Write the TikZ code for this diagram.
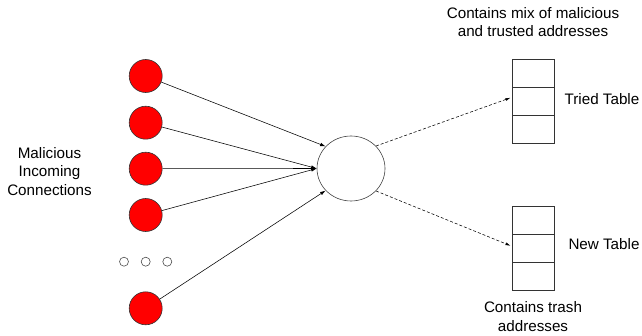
\documentclass[tikz,border=0pt]{standalone}
\usepackage{fontspec}
\setmainfont{Liberation Sans}
\usetikzlibrary{arrows.meta,shapes.geometric,calc}
\begin{document}
\begin{tikzpicture}[x=1pt,y=-1pt,
  redbox/.style={circle,draw=black!80,fill=red,line width=0.6pt,minimum size=33pt,inner sep=0pt},
  dotbox/.style={circle,draw=black!70,line width=0.6pt,minimum size=9pt,inner sep=0pt},
  hub/.style={ellipse,draw=black!75,line width=0.6pt,minimum width=68pt,minimum height=65pt,inner sep=0pt},
  tbl/.style={rectangle,draw=black!80,line width=0.6pt,minimum width=42pt,minimum height=84pt,inner sep=0pt},
  lbl/.style={font=\fontsize{15.2}{18.5}\selectfont,align=center,inner sep=0pt},
  solidarrow/.style={line width=0.55pt,-{Latex[length=5.5pt,width=3.5pt]}},
  dasharrow/.style={line width=0.55pt,dashed,dash pattern=on 3pt off 2pt,-{Latex[length=5pt,width=3pt]}}]
\useasboundingbox (0,0) rectangle (642,336);
\node[redbox] (r1) at (145.7,76) {};
\node[redbox] (r2) at (145.7,122.7) {};
\node[redbox] (r3) at (145.7,168.7) {};
\node[redbox] (r4) at (145.7,215) {};
\node[redbox] (r5) at (145.7,308.3) {};
\node[dotbox] (d1) at (124,261.7) {};
\node[dotbox] (d2) at (145.7,261.7) {};
\node[dotbox] (d3) at (167.3,261.7) {};
\node[hub] (c) at (351,168.5) {};
\node[tbl] (tried) at (533.3,101.3) {};
\node[tbl] (new) at (533.3,248.3) {};
\foreach \t in {tried,new}{
  \draw[line width=0.6pt,draw=black!80] ($(\t.north west)!1/3!(\t.south west)$) -- ($(\t.north east)!1/3!(\t.south east)$);
  \draw[line width=0.6pt,draw=black!80] ($(\t.north west)!2/3!(\t.south west)$) -- ($(\t.north east)!2/3!(\t.south east)$);
}
\draw[solidarrow] (r1) -- (c.139);
\draw[solidarrow] (r2) -- (c.west);
\draw[solidarrow] (r3) -- (c.west);
\draw[solidarrow] (r4) -- (c.west);
\draw[solidarrow] (r5) -- (c.221);
\draw[dasharrow] (c.42) -- ($(tried.west)+(-1.5,-3.5)$) coordinate (te);
\draw[dasharrow] (c.-42) -- ($(new.west)+(-1.5,-2.6)$) coordinate (ne);
\node[lbl] (mal) at (49.5,171.5) {Malicious\\Incoming\\Connections};
\node[lbl] (mix) at (533,22) {Contains mix of malicious\\and trusted addresses};
\node[lbl] (trl) at (602,99) {Tried Table};
\node[lbl] (nwl) at (604,244) {New Table};
\node[lbl] (trash) at (533,316.5) {Contains trash\\addresses};
\end{tikzpicture}
\end{document}
